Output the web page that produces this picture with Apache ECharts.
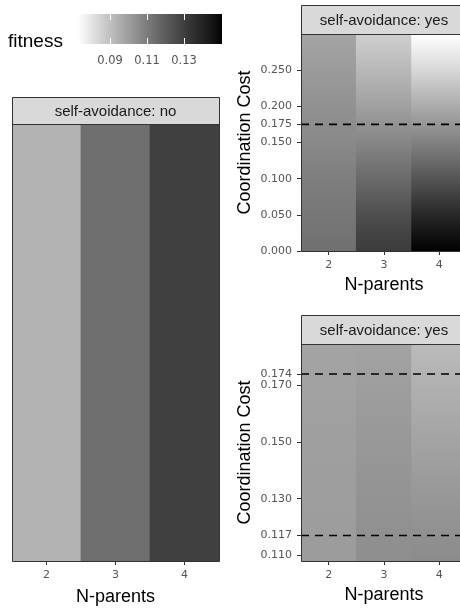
<!DOCTYPE html>
<html>
<head>
<meta charset="utf-8">
<script src="https://cdn.jsdelivr.net/npm/echarts@6/dist/echarts.min.js"></script>
<style>html,body{margin:0;padding:0;background:#fff}#c{width:460px;height:608px}</style>
</head>
<body>
<div id="c"></div>
<script>
// ---- data ----
const nParents = ['2', '3', '4'];
// self-avoidance: no (one fitness value per N-parents)
const fitnessNoSA = [0.0938, 0.1141, 0.1294];
// self-avoidance: yes, full cost range
const costTop = [0, 0.05, 0.10, 0.15, 0.20, 0.25, 0.30];
const fitTopN2 = [0.1139, 0.1116, 0.1093, 0.1062, 0.1038, 0.1007, 0.0980];
const fitTopN3 = [0.1311, 0.1248, 0.1155, 0.1069, 0.0992, 0.0922, 0.0859];
const fitTopN4 = [0.1505, 0.1381, 0.1225, 0.1085, 0.0960, 0.0836, 0.0727];
// self-avoidance: yes, zoomed cost range
const costBottom = [0.108, 0.13, 0.15, 0.17, 0.1846];
const fitBotN2 = [0.1007, 0.0999, 0.0995, 0.0988, 0.0984];
const fitBotN3 = [0.1046, 0.1030, 0.1015, 0.0999, 0.0984];
const fitBotN4 = [0.1054, 0.1019, 0.0984, 0.0945, 0.0914];
// reference (dashed) lines
const refTop = [0.175];
const refBottom = [0.174, 0.117];
// tick labels
const ticksTop = [0, 0.05, 0.10, 0.15, 0.175, 0.20, 0.25];
const ticksBottom = [0.110, 0.117, 0.130, 0.150, 0.170, 0.174];
const legendTicks = [0.09, 0.11, 0.13];

// ---- scales ----
const allFit = [].concat(fitnessNoSA, fitTopN2, fitTopN3, fitTopN4, fitBotN2, fitBotN3, fitBotN4);
const fMin = Math.min.apply(null, allFit);
const fMax = Math.max.apply(null, allFit);
function grayOf(f) {
  let t = (f - fMin) / (fMax - fMin);
  t = Math.max(0, Math.min(1, t));
  const L = 100 * (1 - t);
  const fy = (L + 16) / 116;
  const Y = L > 8 ? fy * fy * fy : L / 903.3;
  const s = Y <= 0.0031308 ? 12.92 * Y : 1.055 * Math.pow(Y, 1 / 2.4) - 0.055;
  const g = Math.max(0, Math.min(255, Math.round(255 * s)));
  return 'rgb(' + g + ',' + g + ',' + g + ')';
}

const TICK_FONT = 'DejaVu Sans';
const TITLE_FONT = 'Liberation Sans';
const tickColor = '#555';

const P = {
  leg: { left: 78, top: 14, width: 144, height: 30 },
  L: { left: 12, top: 124, width: 207, height: 437 },
  TR: { left: 301, top: 34, width: 166, height: 217 },
  BR: { left: 301, top: 344, width: 166, height: 217 }
};
const strips = [
  { x: 12, y: 97, w: 207, h: 27, text: 'self-avoidance: no' },
  { x: 301, y: 5, w: 166, h: 29, text: 'self-avoidance: yes' },
  { x: 301, y: 315, w: 166, h: 29, text: 'self-avoidance: yes' }
];

function panelRender(costs, fits) {
  return function (params, api) {
    const i = api.value(0);
    const n = costs.length;
    const p0 = api.coord([i, costs[0]]);
    const p1 = api.coord([i, costs[n - 1]]);
    const w = api.size([1, 0])[0];
    const span = costs[n - 1] - costs[0];
    const stops = [];
    for (let k = n - 1; k >= 0; k--) {
      stops.push({ offset: (costs[n - 1] - costs[k]) / span, color: grayOf(fits[i][k]) });
    }
    return {
      type: 'rect',
      shape: { x: p0[0] - w / 2 - 0.4, y: p1[1], width: w + 0.8, height: p0[1] - p1[1] },
      style: { fill: { type: 'linear', x: 0, y: 0, x2: 0, y2: 1, colorStops: stops } }
    };
  };
}

function catAxis(gi, gap) {
  return {
    type: 'category', gridIndex: gi, data: nParents,
    axisLine: { show: false },
    axisTick: { show: true, alignWithLabel: true, length: 4, lineStyle: { color: '#333', width: 1 } },
    axisLabel: { margin: 9, fontSize: 11, color: tickColor, fontFamily: TICK_FONT },
    splitLine: { show: false },
    name: 'N-parents', nameLocation: 'middle', nameGap: gap,
    nameTextStyle: { fontSize: 18, color: '#000', fontFamily: TITLE_FONT }
  };
}
function valAxis(gi, costs, ticks) {
  return {
    type: 'value', gridIndex: gi, min: costs[0], max: costs[costs.length - 1],
    axisLine: { show: false },
    axisTick: { show: true, length: 4, lineStyle: { color: '#333', width: 1 }, customValues: ticks },
    axisLabel: { customValues: ticks, formatter: v => v.toFixed(3), margin: 9, fontSize: 11, color: tickColor, fontFamily: TICK_FONT },
    splitLine: { show: false },
    name: 'Coordination Cost', nameLocation: 'middle', nameGap: 47,
    nameTextStyle: { fontSize: 18, color: '#000', fontFamily: TITLE_FONT }
  };
}
function refSeries(xi, yi, vals) {
  return {
    type: 'custom', xAxisIndex: xi, yAxisIndex: yi, silent: true, z: 10, clip: true,
    data: vals.map(v => [0, v]),
    encode: { x: 0, y: 1 },
    renderItem: function (params, api) {
      const cs = params.coordSys;
      const y = api.coord([0, api.value(1)])[1];
      return {
        type: 'line',
        shape: { x1: cs.x, y1: y, x2: cs.x + cs.width, y2: y },
        style: { stroke: '#000', lineWidth: 1.6, lineDash: [8, 6] }
      };
    }
  };
}

const graphics = [];
strips.forEach(s => {
  graphics.push({
    type: 'rect', z: 100,
    shape: { x: s.x + 0.5, y: s.y + 0.5, width: s.w, height: s.h },
    style: { fill: '#d9d9d9', stroke: '#333', lineWidth: 1 }
  });
  graphics.push({
    type: 'text', z: 101,
    style: { x: s.x + s.w / 2, y: s.y + s.h / 2 + 1, text: s.text, textAlign: 'center', textVerticalAlign: 'middle',
      font: '15px "Liberation Sans"', fill: '#1a1a1a' }
  });
});
['L', 'TR', 'BR'].forEach(k => {
  const g = P[k];
  graphics.push({
    type: 'rect', z: 100,
    shape: { x: g.left + 0.5, y: g.top + 0.5, width: g.width, height: g.height },
    style: { fill: 'none', stroke: '#333', lineWidth: 1 }
  });
});
graphics.push({
  type: 'text', z: 101,
  style: { x: 8, y: 42, text: 'fitness', textAlign: 'left', textVerticalAlign: 'middle',
    font: '19px "Liberation Sans"', fill: '#000' }
});

const legendStops = [];
for (let k = 0; k <= 20; k++) legendStops.push({ offset: k / 20, color: grayOf(fMin + (fMax - fMin) * k / 20) });

function gridOf(p) { return Object.assign({ outerBoundsMode: 'none', containLabel: false }, p); }

const option = {
  backgroundColor: '#fff',
  animation: false,
  grid: [gridOf(P.leg), gridOf(P.L), gridOf(P.TR), gridOf(P.BR)],
  xAxis: [
    { type: 'value', gridIndex: 0, min: fMin, max: fMax, z: 5,
      axisLine: { show: false }, splitLine: { show: false },
      axisTick: { show: true, inside: true, length: 6, lineStyle: { color: '#fff', width: 1 }, customValues: legendTicks },
      axisLabel: { customValues: legendTicks, formatter: v => v.toFixed(2), margin: 11, fontSize: 11.5, color: tickColor, fontFamily: TICK_FONT } },
    { type: 'value', gridIndex: 0, position: 'top', min: fMin, max: fMax, z: 5,
      axisLine: { show: false }, splitLine: { show: false },
      axisTick: { show: true, inside: true, length: 6, lineStyle: { color: '#fff', width: 1 }, customValues: legendTicks },
      axisLabel: { show: false } },
    catAxis(1, 27), catAxis(2, 25), catAxis(3, 25)
  ],
  yAxis: [
    { type: 'value', gridIndex: 0, min: 0, max: 1, show: false },
    { type: 'value', gridIndex: 1, min: 0, max: 1, show: false },
    valAxis(2, costTop, ticksTop),
    valAxis(3, costBottom, ticksBottom)
  ],
  graphic: graphics,
  series: [
    { type: 'custom', xAxisIndex: 0, yAxisIndex: 0, z: 1, silent: true,
      data: [[fMin, fMax]],
      renderItem: function (params, api) {
        const a = api.coord([fMin, 0]); const b = api.coord([fMax, 1]);
        return { type: 'rect', shape: { x: a[0], y: b[1], width: b[0] - a[0], height: a[1] - b[1] },
          style: { fill: { type: 'linear', x: 0, y: 0, x2: 1, y2: 0, colorStops: legendStops } } };
      } },
    { type: 'custom', xAxisIndex: 2, yAxisIndex: 1, silent: true, clip: true,
      data: fitnessNoSA.map((f, i) => [i, 0, 1]),
      encode: { x: 0, y: [1, 2] },
      renderItem: function (params, api) {
        const i = api.value(0);
        const a = api.coord([i, 0]); const b = api.coord([i, 1]);
        const w = api.size([1, 0])[0];
        return { type: 'rect', shape: { x: a[0] - w / 2 - 0.4, y: b[1], width: w + 0.8, height: a[1] - b[1] },
          style: { fill: grayOf(fitnessNoSA[i]) } };
      } },
    { type: 'custom', xAxisIndex: 3, yAxisIndex: 2, silent: true, clip: true,
      data: nParents.map((c, i) => [i, costTop[0], costTop[costTop.length - 1]]),
      encode: { x: 0, y: [1, 2] },
      renderItem: panelRender(costTop, [fitTopN2, fitTopN3, fitTopN4]) },
    { type: 'custom', xAxisIndex: 4, yAxisIndex: 3, silent: true, clip: true,
      data: nParents.map((c, i) => [i, costBottom[0], costBottom[costBottom.length - 1]]),
      encode: { x: 0, y: [1, 2] },
      renderItem: panelRender(costBottom, [fitBotN2, fitBotN3, fitBotN4]) },
    refSeries(3, 2, refTop),
    refSeries(4, 3, refBottom)
  ]
};
const chart = echarts.init(document.getElementById('c'), null, { renderer: 'canvas' });
chart.setOption(option);
</script>
</body>
</html>
